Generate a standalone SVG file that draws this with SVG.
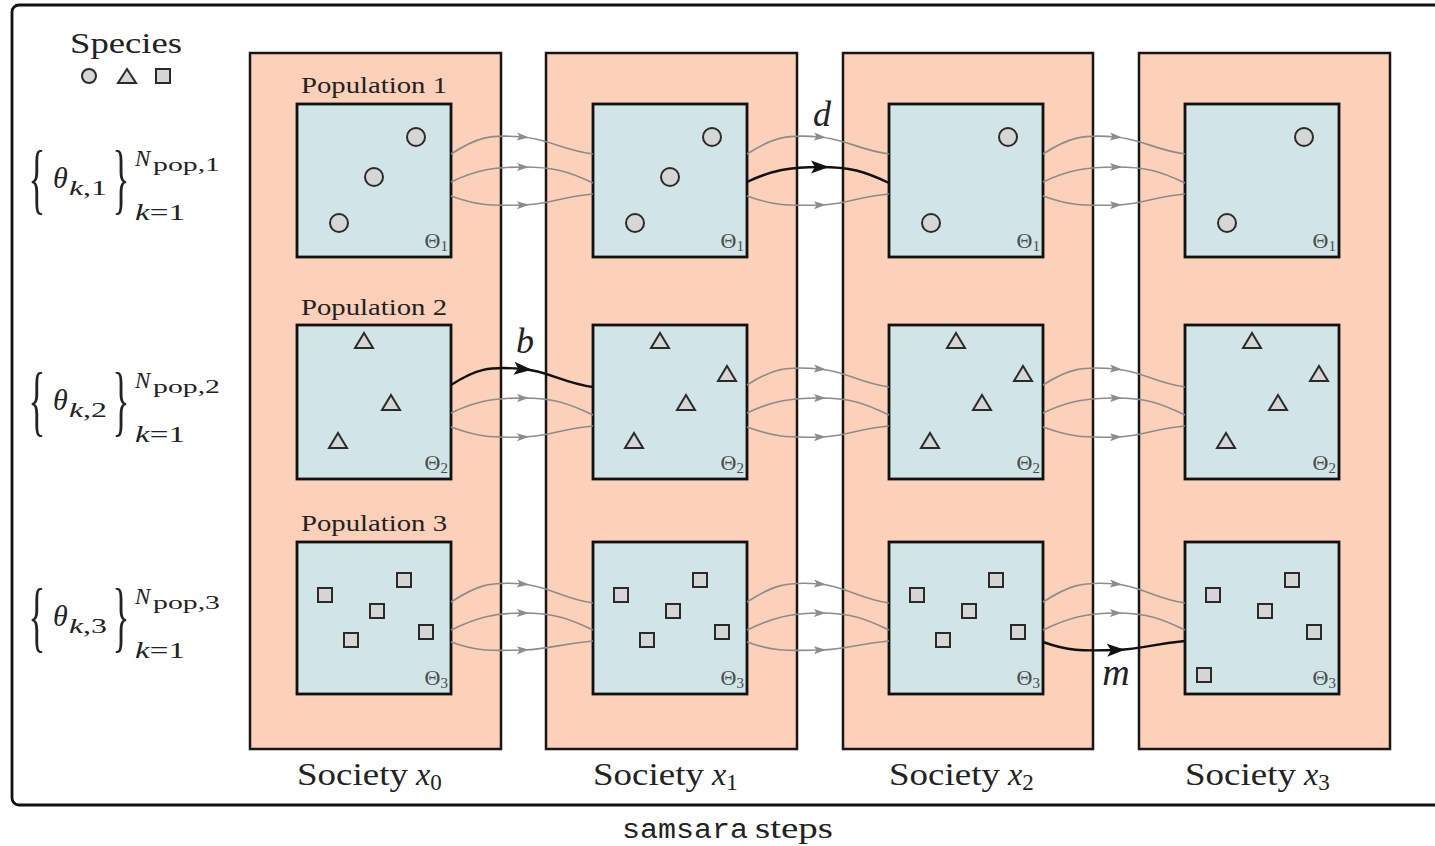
<svg xmlns="http://www.w3.org/2000/svg" xmlns:xlink="http://www.w3.org/1999/xlink" width="1435" height="846" viewBox="0 0 1435 846">
<style>
.frame{fill:none;stroke:#111;stroke-width:2.8}
.soc{fill:#fdd0b9;stroke:#161616;stroke-width:2.5}
.box{fill:#d1e5e6;stroke:#111;stroke-width:2.8}
.sp{fill:#d6d6d6;stroke:#2a2a2a;stroke-width:2}
.g{fill:none;stroke:#8c8c8c;stroke-width:1.6;marker-mid:url(#ag)}
.k{fill:none;stroke:#111;stroke-width:2.4;marker-mid:url(#ak)}
.t{font-family:"Liberation Serif","DejaVu Serif",serif;fill:#222}
.i{font-style:italic}
.th{font-family:"Liberation Serif","DejaVu Serif",serif;fill:#4a4a4a;font-size:22px;text-anchor:end}
.mono{font-family:"Liberation Mono","DejaVu Sans Mono",monospace;fill:#222}
.pop{font-size:24px;text-anchor:middle}
.soclab{font-size:32px}
.br{font-size:78px;text-anchor:middle}
</style>
<defs>
<marker id="ag" markerUnits="userSpaceOnUse" markerWidth="14" markerHeight="10" refX="6" refY="4" orient="auto" overflow="visible"><path d="M0,0 L12,4 L0,8 L2.5,4z" fill="#8c8c8c"/></marker>
<marker id="ak" markerUnits="userSpaceOnUse" markerWidth="20" markerHeight="14" refX="9" refY="6.5" orient="auto" overflow="visible"><path d="M0,0 L18,6.5 L0,13 L4,6.5z" fill="#111"/></marker>
<circle id="ci" r="9"/>
<polygon id="tr" points="0,-8 9,7 -9,7"/>
<rect id="sq" x="-7" y="-7" width="14" height="14"/>
</defs>

<rect class="frame" x="12" y="5" width="1440" height="800" rx="7"/>

<g id="legend">
<text class="t" x="126" y="53" font-size="30" text-anchor="middle" textLength="112" lengthAdjust="spacingAndGlyphs">Species</text>
<g class="sp"><circle cx="89" cy="76" r="7"/><polygon points="127,69 136,83 118,83"/><rect x="156" y="69" width="14" height="14"/></g>
</g>

<g id="params">
<g id="param1">
<text class="t br" transform="translate(37,205) scale(0.45,1)">{</text>
<text class="t i" x="53" y="188" font-size="30">θ</text>
<text class="t" x="69" y="195" font-size="22" textLength="38" lengthAdjust="spacingAndGlyphs"><tspan class="i">k</tspan>,1</text>
<text class="t br" transform="translate(121,205) scale(0.45,1)">}</text>
<text class="t i" x="135" y="166" font-size="23">N</text>
<text class="t" x="153" y="171" font-size="18" textLength="67" lengthAdjust="spacingAndGlyphs">pop,1</text>
<text class="t" x="135" y="220" font-size="23" textLength="50" lengthAdjust="spacingAndGlyphs"><tspan class="i">k</tspan>=1</text>
</g>
<g id="param2">
<text class="t br" transform="translate(37,427) scale(0.45,1)">{</text>
<text class="t i" x="53" y="410" font-size="30">θ</text>
<text class="t" x="69" y="417" font-size="22" textLength="38" lengthAdjust="spacingAndGlyphs"><tspan class="i">k</tspan>,2</text>
<text class="t br" transform="translate(121,427) scale(0.45,1)">}</text>
<text class="t i" x="135" y="388" font-size="23">N</text>
<text class="t" x="153" y="393" font-size="18" textLength="67" lengthAdjust="spacingAndGlyphs">pop,2</text>
<text class="t" x="135" y="442" font-size="23" textLength="50" lengthAdjust="spacingAndGlyphs"><tspan class="i">k</tspan>=1</text>
</g>
<g id="param3">
<text class="t br" transform="translate(37,643) scale(0.45,1)">{</text>
<text class="t i" x="53" y="626" font-size="30">θ</text>
<text class="t" x="69" y="633" font-size="22" textLength="38" lengthAdjust="spacingAndGlyphs"><tspan class="i">k</tspan>,3</text>
<text class="t br" transform="translate(121,643) scale(0.45,1)">}</text>
<text class="t i" x="135" y="604" font-size="23">N</text>
<text class="t" x="153" y="609" font-size="18" textLength="67" lengthAdjust="spacingAndGlyphs">pop,3</text>
<text class="t" x="135" y="658" font-size="23" textLength="50" lengthAdjust="spacingAndGlyphs"><tspan class="i">k</tspan>=1</text>
</g>
</g>

<g id="society0">
<rect class="soc" x="250" y="53" width="251" height="696"/>
<text class="t soclab" x="297" y="785"><tspan textLength="111" lengthAdjust="spacingAndGlyphs">Society</tspan> <tspan class="i">x</tspan><tspan font-size="23" dy="5">0</tspan></text>
<text class="t pop" x="374" y="93" textLength="146" lengthAdjust="spacingAndGlyphs">Population 1</text>
<text class="t pop" x="374" y="315" textLength="146" lengthAdjust="spacingAndGlyphs">Population 2</text>
<text class="t pop" x="374" y="531" textLength="146" lengthAdjust="spacingAndGlyphs">Population 3</text>
</g>
<g id="society1">
<rect class="soc" x="546" y="53" width="251" height="696"/>
<text class="t soclab" x="593" y="785"><tspan textLength="111" lengthAdjust="spacingAndGlyphs">Society</tspan> <tspan class="i">x</tspan><tspan font-size="23" dy="5">1</tspan></text>
</g>
<g id="society2">
<rect class="soc" x="843" y="53" width="250" height="696"/>
<text class="t soclab" x="889" y="785"><tspan textLength="111" lengthAdjust="spacingAndGlyphs">Society</tspan> <tspan class="i">x</tspan><tspan font-size="23" dy="5">2</tspan></text>
</g>
<g id="society3">
<rect class="soc" x="1139" y="53" width="251" height="696"/>
<text class="t soclab" x="1185" y="785"><tspan textLength="111" lengthAdjust="spacingAndGlyphs">Society</tspan> <tspan class="i">x</tspan><tspan font-size="23" dy="5">3</tspan></text>
</g>

<!-- population 1 -->
<g id="pop1-s0"><rect class="box" x="297" y="104" width="154" height="153"/><g class="sp"><use href="#ci" x="416" y="137"/><use href="#ci" x="374" y="177"/><use href="#ci" x="339" y="223"/></g><text class="th" x="448" y="248">Θ<tspan font-size="15" dy="3">1</tspan></text></g>
<g id="pop1-s1"><rect class="box" x="593" y="104" width="154" height="153"/><g class="sp"><use href="#ci" x="712" y="137"/><use href="#ci" x="670" y="177"/><use href="#ci" x="635" y="223"/></g><text class="th" x="744" y="248">Θ<tspan font-size="15" dy="3">1</tspan></text></g>
<g id="pop1-s2"><rect class="box" x="889" y="104" width="154" height="153"/><g class="sp"><use href="#ci" x="1008" y="137"/><use href="#ci" x="931" y="223"/></g><text class="th" x="1040" y="248">Θ<tspan font-size="15" dy="3">1</tspan></text></g>
<g id="pop1-s3"><rect class="box" x="1185" y="104" width="154" height="153"/><g class="sp"><use href="#ci" x="1304" y="137"/><use href="#ci" x="1227" y="223"/></g><text class="th" x="1336" y="248">Θ<tspan font-size="15" dy="3">1</tspan></text></g>

<!-- population 2 -->
<g id="pop2-s0"><rect class="box" x="297" y="325" width="154" height="154"/><g class="sp"><use href="#tr" x="364" y="341"/><use href="#tr" x="391" y="403"/><use href="#tr" x="338" y="441"/></g><text class="th" x="448" y="470">Θ<tspan font-size="15" dy="3">2</tspan></text></g>
<g id="pop2-s1"><rect class="box" x="593" y="325" width="154" height="154"/><g class="sp"><use href="#tr" x="660" y="341"/><use href="#tr" x="727" y="374"/><use href="#tr" x="686" y="403"/><use href="#tr" x="634" y="441"/></g><text class="th" x="744" y="470">Θ<tspan font-size="15" dy="3">2</tspan></text></g>
<g id="pop2-s2"><rect class="box" x="889" y="325" width="154" height="154"/><g class="sp"><use href="#tr" x="956" y="341"/><use href="#tr" x="1023" y="374"/><use href="#tr" x="982" y="403"/><use href="#tr" x="930" y="441"/></g><text class="th" x="1040" y="470">Θ<tspan font-size="15" dy="3">2</tspan></text></g>
<g id="pop2-s3"><rect class="box" x="1185" y="325" width="154" height="154"/><g class="sp"><use href="#tr" x="1252" y="341"/><use href="#tr" x="1319" y="374"/><use href="#tr" x="1278" y="403"/><use href="#tr" x="1226" y="441"/></g><text class="th" x="1336" y="470">Θ<tspan font-size="15" dy="3">2</tspan></text></g>

<!-- population 3 -->
<g id="pop3-s0"><rect class="box" x="297" y="542" width="154" height="152"/><g class="sp"><use href="#sq" x="325" y="595"/><use href="#sq" x="404" y="580"/><use href="#sq" x="377" y="611"/><use href="#sq" x="351" y="640"/><use href="#sq" x="426" y="632"/></g><text class="th" x="448" y="685">Θ<tspan font-size="15" dy="3">3</tspan></text></g>
<g id="pop3-s1"><rect class="box" x="593" y="542" width="154" height="152"/><g class="sp"><use href="#sq" x="621" y="595"/><use href="#sq" x="700" y="580"/><use href="#sq" x="673" y="611"/><use href="#sq" x="647" y="640"/><use href="#sq" x="722" y="632"/></g><text class="th" x="744" y="685">Θ<tspan font-size="15" dy="3">3</tspan></text></g>
<g id="pop3-s2"><rect class="box" x="889" y="542" width="154" height="152"/><g class="sp"><use href="#sq" x="917" y="595"/><use href="#sq" x="996" y="580"/><use href="#sq" x="969" y="611"/><use href="#sq" x="943" y="640"/><use href="#sq" x="1018" y="632"/></g><text class="th" x="1040" y="685">Θ<tspan font-size="15" dy="3">3</tspan></text></g>
<g id="pop3-s3"><rect class="box" x="1185" y="542" width="154" height="152"/><g class="sp"><use href="#sq" x="1213" y="595"/><use href="#sq" x="1292" y="580"/><use href="#sq" x="1265" y="611"/><use href="#sq" x="1314" y="632"/><use href="#sq" x="1204" y="675"/></g><text class="th" x="1336" y="685">Θ<tspan font-size="15" dy="3">3</tspan></text></g>

<g id="connectors">
<path class="g" d="M451,154 C476,138 488,134 523,137 C548,139 563,150 593,154"/>
<path class="g" d="M451,182 C476,170 493,167 523,167 C553,167 568,171 593,183"/>
<path class="g" d="M451,196 C476,205 488,206 523,205 C553,204 558,197 593,194"/>
<path class="g" d="M747,154 C772,138 785,134 820,137 C845,139 859,150 889,154"/>
<path class="k" d="M747,182 C772,170 790,167 820,167 C850,167 864,171 889,183"/>
<path class="g" d="M747,196 C772,205 785,206 820,205 C850,204 854,197 889,194"/>
<path class="g" d="M1043,154 C1068,138 1081,134 1116,137 C1141,139 1155,150 1185,154"/>
<path class="g" d="M1043,182 C1068,170 1086,167 1116,167 C1146,167 1160,171 1185,183"/>
<path class="g" d="M1043,196 C1068,205 1081,206 1116,205 C1146,204 1150,197 1185,194"/>

<path class="k" d="M451,385 C476,369 488,366 523,369 C548,371 563,383 593,387"/>
<path class="g" d="M451,413 C476,401 493,398 523,398 C553,398 568,403 593,415"/>
<path class="g" d="M451,427 C476,436 488,438 523,437 C553,436 558,429 593,426"/>
<path class="g" d="M747,385 C772,369 785,366 820,369 C845,371 859,383 889,387"/>
<path class="g" d="M747,413 C772,401 790,398 820,398 C850,398 864,403 889,415"/>
<path class="g" d="M747,427 C772,436 785,438 820,437 C850,436 854,429 889,426"/>
<path class="g" d="M1043,385 C1068,369 1081,366 1116,369 C1141,371 1155,383 1185,387"/>
<path class="g" d="M1043,413 C1068,401 1086,398 1116,398 C1146,398 1160,403 1185,415"/>
<path class="g" d="M1043,427 C1068,436 1081,438 1116,437 C1146,436 1150,429 1185,426"/>

<path class="g" d="M451,602 C476,586 488,581 523,584 C548,586 563,599 593,603"/>
<path class="g" d="M451,630 C476,618 493,613 523,613 C553,613 568,618 593,630"/>
<path class="g" d="M451,642 C476,651 488,651 523,650 C553,649 558,644 593,641"/>
<path class="g" d="M747,602 C772,586 785,581 820,584 C845,586 859,599 889,603"/>
<path class="g" d="M747,630 C772,618 790,613 820,613 C850,613 864,618 889,630"/>
<path class="g" d="M747,642 C772,651 785,651 820,650 C850,649 854,644 889,641"/>
<path class="g" d="M1043,602 C1068,586 1081,581 1116,584 C1141,586 1155,599 1185,603"/>
<path class="g" d="M1043,630 C1068,618 1086,613 1116,613 C1146,613 1160,618 1185,630"/>
<path class="k" d="M1043,642 C1068,651 1081,651 1116,650 C1146,649 1150,644 1185,641"/>

<text class="t i" x="822" y="126" font-size="36" text-anchor="middle">d</text>
<text class="t i" x="525" y="353" font-size="36" text-anchor="middle">b</text>
<text class="t i" x="1116" y="685" font-size="38" text-anchor="middle">m</text>
</g>

<text class="mono" x="622" y="838" font-size="27" textLength="126" lengthAdjust="spacingAndGlyphs">samsara</text>
<text class="t" x="755" y="838" font-size="29" textLength="78" lengthAdjust="spacingAndGlyphs">steps</text>
</svg>
